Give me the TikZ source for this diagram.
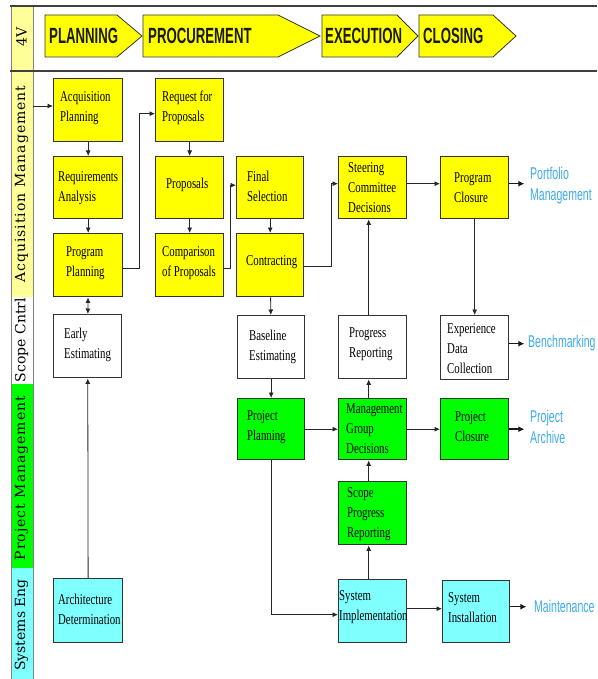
\documentclass[tikz,border=0pt]{standalone}
\usepackage{fontspec}
\setmainfont{Liberation Serif}
\newfontfamily\boxfont[FakeStretch=0.72]{Liberation Serif}
\newfontfamily\headfont[FakeStretch=0.6]{Liberation Sans}
\newfontfamily\bluefont[FakeStretch=0.62]{Liberation Sans}
\newfontfamily\lanefont{DejaVu Serif}
\newfontfamily\lanefontwide[LetterSpace=7]{DejaVu Serif}
\usetikzlibrary{arrows.meta,calc}
\definecolor{yel}{HTML}{FFFF00}
\definecolor{lyel}{HTML}{FFFF99}
\definecolor{grn}{HTML}{00FF00}
\definecolor{cyn}{HTML}{80FFFF}
\definecolor{blu}{HTML}{3CAAEB}
\definecolor{edge}{HTML}{333333}
\newcommand\mybox[6]{\node[box, fill=#2, minimum width={#5-#3}, minimum height={#6-#4}] (#1) at (#3,#4) {};}
\begin{document}
\begin{tikzpicture}[x=1pt,y=-1pt,
  box/.style={draw=edge, line width=1.4, inner sep=0, outer sep=0.7, anchor=north west},
  txt/.style={font=\boxfont\fontsize{15}{20}\selectfont, align=left, anchor=west, inner sep=0},
  head/.style={font=\headfont\bfseries\fontsize{22}{22}\selectfont, anchor=west, inner sep=0, text=black!90},
  chev/.style={draw=edge, line width=0.8, fill=yel},
  bluetxt/.style={font=\bluefont\fontsize{17}{21}\selectfont, align=left, anchor=west, inner sep=0, text=blu},
  lanelab/.style={font=\lanefont\fontsize{14}{14}\selectfont, rotate=90, inner sep=0},
  lanewide/.style={font=\lanefontwide\fontsize{14}{14}\selectfont, rotate=90, inner sep=0},
  arr/.style={draw=black!85, line width=0.8, -{Latex[length=5.5,width=5]}},
  darr/.style={draw=black!85, line width=0.8, {Latex[length=5.5,width=5]}-{Latex[length=5.5,width=5]}},
  barr/.style={draw=black!90, line width=1.5, -{Latex[length=6,width=6]}},
  hline/.style={draw=black!75, line width=1.5},
  vline/.style={draw=black!50, line width=0.8}
]
\useasboundingbox (0,0) rectangle (597,679);

% left lane column
\fill[lyel] (11,6) rectangle (33,71);
\fill[lyel] (11,72) rectangle (33,297);
\fill[white] (11,297) rectangle (33,384);
\fill[grn] (11,384) rectangle (33,568);
\fill[cyn] (11,568) rectangle (33,679);
\draw[vline] (11,6) -- (11,679);
\draw[vline] (33,6) -- (33,679);
\draw[hline] (10,6) -- (597,6);
\draw[hline] (10,71) -- (597,71);

\node[lanelab] (l-4v) at (21.5,37) {4V};
\node[lanewide] (l-acq) at (21.5,184) {Acquisition Management};
\node[lanelab] (l-scope) at (21.5,340) {Scope Cntrl};
\node[lanewide] (l-pm) at (21.5,478) {Project Management};
\node[lanelab] (l-se) at (21.5,625) {Systems Eng};

% phase chevrons
\draw[chev] (45,15) -- (117,15) -- (142,36) -- (117,57) -- (45,57) -- cycle;
\draw[chev] (143,15) -- (278,15) -- (320,36) -- (278,57) -- (143,57) -- cycle;
\draw[chev] (322,15) -- (397,15) -- (418,36) -- (397,57) -- (322,57) -- cycle;
\draw[chev] (419,15) -- (493,15) -- (516,36) -- (493,57) -- (419,57) -- cycle;
\node[head] (h-plan) at (49,36) {PLANNING};
\node[head] (h-proc) at (148,36) {PROCUREMENT};
\node[head] (h-exec) at (325,36) {EXECUTION};
\node[head] (h-close) at (423,36) {CLOSING};

% boxes
\mybox{ap}{yel}{53}{78}{122}{141}
\mybox{ra}{yel}{53}{156}{122}{218}
\mybox{prp}{yel}{53}{233}{122}{296}
\mybox{rfp}{yel}{155}{78}{223}{141}
\mybox{prop}{yel}{155}{156}{223}{218}
\mybox{cmp}{yel}{155}{233}{223}{296}
\mybox{fs}{yel}{236}{156}{303}{218}
\mybox{con}{yel}{236}{233}{303}{296}
\mybox{scd}{yel}{338}{156}{406}{218}
\mybox{pcl}{yel}{440}{156}{508}{218}
\mybox{ee}{white}{53}{314}{121}{377}
\mybox{be}{white}{237}{315}{304}{378}
\mybox{prr}{white}{338}{315}{406}{378}
\mybox{edc}{white}{440}{315}{508}{379}
\mybox{ppl}{grn}{237}{398}{304}{459}
\mybox{mgd}{grn}{338}{398}{406}{459}
\mybox{pjc}{grn}{440}{398}{508}{459}
\mybox{spr}{grn}{338}{481}{406}{544}
\mybox{arch}{cyn}{53}{578}{122}{642}
\mybox{simp}{cyn}{338}{579}{406}{642}
\mybox{sins}{cyn}{442}{580}{509}{642}

% box texts
\node[txt] (ap-t) at (60,108) {Acquisition\\Planning};
\node[txt] (ra-t) at (58,188) {Requirements\\Analysis};
\node[txt] (prp-t) at (66,263) {Program\\Planning};
\node[txt] (rfp-t) at (162,108) {Request for\\Proposals};
\node[txt] (prop-t) at (166,185) {Proposals};
\node[txt] (cmp-t) at (162,263) {Comparison\\of Proposals};
\node[txt] (fs-t) at (247,186) {Final\\Selection};
\node[txt] (con-t) at (246,262) {Contracting};
\node[txt] (scd-t) at (348,188) {Steering\\Committee\\Decisions};
\node[txt] (pcl-t) at (454,188) {Program\\Closure};
\node[txt] (ee-t) at (64,345) {Early\\Estimating};
\node[txt] (be-t) at (249,347) {Baseline\\Estimating};
\node[txt] (prr-t) at (349,344) {Progress\\Reporting};
\node[txt] (edc-t) at (447,349) {Experience\\Data\\Collection};
\node[txt] (ppl-t) at (247,427) {Project\\Planning};
\node[txt] (mgd-t) at (346,429) {Management\\Group\\Decisions};
\node[txt] (pjc-t) at (455,427) {Project\\Closure};
\node[txt] (spr-t) at (347,514) {Scope\\Progress\\Reporting};
\node[txt] (arch-t) at (58,609) {Architecture\\Determination};
\node[txt] (simp-t) at (339,607) {System\\Implementation};
\node[txt] (sins-t) at (448,608) {System\\Installation};

% blue outputs
\node[bluetxt] (portfolio) at (530,186) {Portfolio\\Management};
\node[bluetxt] (bench) at (528,343) {Benchmarking};
\node[bluetxt] (archive) at (530,427) {Project\\Archive};
\node[bluetxt] (maint) at (534,606) {Maintenance};

% connectors
\coordinate (entry) at (33,106);
\draw[arr] (entry) -- (entry -| ap.west);
\draw[arr] (ap) -- (ra);
\draw[arr] (ra) -- (prp);
\draw[arr] ($(prp.east)+(0,3.5)$) -- ++(16,0) |- ($(rfp.west)+(0,3.5)$);
\draw[arr] (rfp) -- (prop);
\draw[arr] (prop) -- (cmp);
\draw[arr] ($(cmp.east)+(0,3.5)$) -- ++(6,0) |- ($(fs.west)+(0,-2.5)$);
\draw[arr] (fs) -- (con);
\draw[arr] ($(con.east)+(0,1.5)$) -- ++(27,0) |- ($(scd.west)+(0,-4)$);
\draw[arr] ($(scd.east)+(0,-4)$) -- ($(pcl.west)+(0,-4)$);
\draw[barr] ($(pcl.east)+(0,-4)$) -- ++(15,0);
\draw[arr] (pcl) -- (edc);
\draw[barr] ($(edc.east)+(0,-4)$) -- ++(15,0);
\draw[arr] ($(prr.north)+(-4,0)$) coordinate (p1) -- (p1 |- scd.south);
\draw[darr] (prp) -- (ee);
\draw[arr] (arch) -- (ee);
\draw[arr] (con) -- (be);
\draw[arr] (be) -- (ppl);
\draw[arr] (ppl) -- (mgd);
\draw[arr] (mgd) -- (pjc);
\draw[barr] (pjc.east) -- ++(15,0);
\draw[arr] ($(mgd.north)+(-4,0)$) coordinate (m1) -- (m1 |- prr.south);
\draw[arr] ($(spr.north)+(-4,0)$) coordinate (s1) -- (s1 |- mgd.south);
\draw[arr] ($(simp.north)+(-4,0)$) coordinate (s2) -- (s2 |- spr.south);
\draw[arr] (ppl.south) |- ($(simp.west)+(0,3.5)$);
\draw[arr] ($(simp.east)+(0,-2.5)$) -- (sins.west |- {$(simp.east)+(0,-2.5)$});
\draw[barr] ($(sins.east)+(0,-5)$) -- ++(16,0);
\end{tikzpicture}
\end{document}
